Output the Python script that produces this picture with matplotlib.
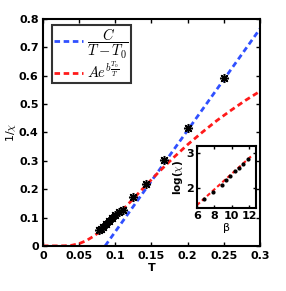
import numpy as np
import matplotlib
matplotlib.use('Agg')
import matplotlib.pyplot as plt

plt.rcParams['mathtext.fontset'] = 'cm'

# data points (1/chi vs T)
T = [0.25, 0.2, 0.1667, 0.1429, 0.125, 0.1111, 0.1053, 0.1, 0.0952, 0.0909, 0.087, 0.0833, 0.08, 0.078]
inv_chi = [0.59, 0.417, 0.303, 0.218, 0.172, 0.128, 0.118, 0.108, 0.097, 0.087, 0.077, 0.068, 0.06, 0.055]

# Curie-Weiss fit line
T_cw = [0.086, 0.3]
y_cw = [0.0, 0.765]

# activated fit curve
T_act = [0.0, 0.02, 0.03, 0.04, 0.05, 0.06, 0.07, 0.08, 0.09, 0.1, 0.12, 0.14,
         0.16, 0.18, 0.2, 0.22, 0.24, 0.26, 0.28, 0.3]
y_act = [0.0, 0.0, 0.0003, 0.0022, 0.008, 0.0185, 0.034, 0.053, 0.076, 0.1, 0.153, 0.207,
         0.26, 0.31, 0.357, 0.4, 0.441, 0.478, 0.513, 0.545]

# inset: log(chi) vs beta
beta = [6.8, 7.9, 8.9, 9.4, 9.8, 10.4, 10.8, 11.3, 11.9]
log_chi = [1.68, 1.87, 2.09, 2.23, 2.33, 2.47, 2.57, 2.69, 2.82]
beta_fit = [6.0, 12.3]
log_fit = [1.50, 2.91]

blue = '#3050ff'
red = '#ff1a1a'

fig = plt.figure(figsize=(2.86, 2.91), dpi=100)
ax = fig.add_axes([0.150, 0.155, 0.759, 0.780])

ax.plot(T_cw, y_cw, '--', color=blue, lw=2, dashes=(2, 1.3), label=r'$\dfrac{C}{T-T_0}$')
ax.plot(T_act, y_act, '--', color=red, lw=2, dashes=(2, 1.3), label=r'$Ae^{b\frac{T_0}{T}}$')
ax.plot(T, inv_chi, linestyle='none', marker=(8, 2, 0), ms=6.5, mew=1.1, color='k')

ax.set_xlim(0, 0.3)
ax.set_ylim(0, 0.8)
ax.set_xticks([0, 0.05, 0.1, 0.15, 0.2, 0.25, 0.3])
ax.set_xticklabels(['0', '0.05', '0.1', '0.15', '0.2', '0.25', '0.3'])
ax.set_yticks(np.arange(0, 0.81, 0.1))
ax.set_yticklabels(['0', '0.1', '0.2', '0.3', '0.4', '0.5', '0.6', '0.7', '0.8'])
ax.tick_params(direction='in', top=True, right=True, length=3, width=1, labelsize=8, pad=3)
ax.tick_params(axis='x', pad=4)
for lab in ax.get_xticklabels() + ax.get_yticklabels():
    lab.set_fontweight('bold')
for s in ax.spines.values():
    s.set_linewidth(1.5)
ax.set_xlabel('T', fontsize=8, fontweight='bold', labelpad=1)
ax.set_ylabel(r'1/$\chi$', fontsize=8, labelpad=1)

leg = ax.legend(loc='upper left', bbox_to_anchor=(0.04, 0.975), fontsize=10.5, frameon=True,
                fancybox=False, handlelength=2.0, handletextpad=0.3, borderpad=0.15,
                labelspacing=0.0, borderaxespad=0)
leg.get_frame().set_edgecolor('k')
leg.get_frame().set_linewidth(1.5)

ins = fig.add_axes([0.688, 0.285, 0.207, 0.212])
ins.plot(beta_fit, log_fit, '--', color=red, lw=1.5, dashes=(2, 1.3))
ins.plot(beta, log_chi, 'o', color='k', ms=2)
ins.set_xlim(6, 12.8)
ins.set_ylim(1.42, 3.18)
ins.set_xticks([6, 8, 10, 12])
ins.set_yticks([2, 3])
ins.tick_params(direction='in', top=True, right=True, length=2, width=1, labelsize=8, pad=2)
for lab in ins.get_xticklabels() + ins.get_yticklabels():
    lab.set_fontweight('bold')
for s in ins.spines.values():
    s.set_linewidth(1.5)
ins.set_xlabel(r'$\mathregular{\beta}$', fontsize=8, labelpad=0)
ins.set_ylabel(r'log($\chi$)', fontsize=7.5, fontweight='bold', labelpad=1)

fig.savefig('out.png', dpi=100)
